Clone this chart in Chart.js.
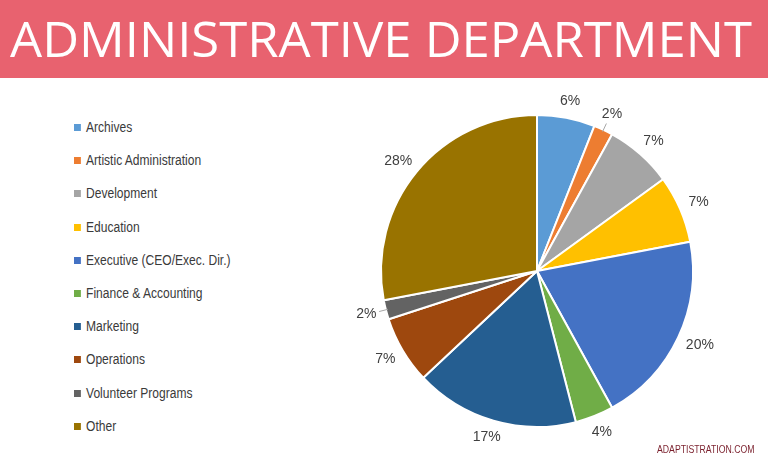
<!DOCTYPE html>
<html>
<head>
<meta charset="utf-8">
<script src="https://cdn.jsdelivr.net/npm/chart.js@4/dist/chart.umd.min.js"></script>
<style>
  html, body { margin: 0; padding: 0; background: #fff; }
  body { width: 768px; height: 464px; position: relative; overflow: hidden; }
  #banner { position: absolute; left: 0; top: 0; width: 768px; height: 78px; background: #E8626F; }
  #banner span { position: absolute; left: 10px; top: 8px; color: #fff; font-family: "Open Sans", sans-serif; font-weight: 400; font-size: 50px; line-height: 60px; white-space: nowrap; transform-origin: 0 0; }
  #legend { position: absolute; left: 74px; top: 0; }
  .item { position: absolute; left: 0; white-space: nowrap; font-family: "Liberation Sans", sans-serif; font-size: 14px; color: #3A3A3A; transform: scaleX(0.86); transform-origin: 0 50%; }
  .item i { display: inline-block; width: 8px; height: 7px; margin-right: 6px; vertical-align: 1px; }
  #wrap { position: absolute; left: 317px; top: 81px; width: 440px; height: 380px; }
  #mark { position: absolute; left: 657px; top: 444px; font-family: "Liberation Sans", sans-serif; font-size: 10px; color: #7A1F2C; transform: scaleX(0.87); transform-origin: 0 50%; }
</style>
</head>
<body>
<div id="banner"><span id="titulo">ADMINISTRATIVE DEPARTMENT</span></div>
<div id="legend"></div>
<div id="wrap"><canvas id="myChart" width="440" height="380"></canvas></div>
<div id="mark">ADAPTISTRATION.COM</div>
<script>
/* DATOS */
const categorias = ["Archives", "Artistic Administration", "Development", "Education",
  "Executive (CEO/Exec. Dir.)", "Finance & Accounting", "Marketing", "Operations",
  "Volunteer Programs", "Other"];
const porcentajes = [6, 2, 7, 7, 20, 4, 17, 7, 2, 28];
const colores = ["#5B9BD5", "#ED7D31", "#A5A5A5", "#FFC000", "#4472C4",
  "#70AD47", "#255E91", "#9E480E", "#636363", "#997300"];

// ajustar el titulo al ancho del banner
const titulo = document.getElementById("titulo");
titulo.style.transform = "scaleX(" + (742 / titulo.getBoundingClientRect().width) + ")";

// leyenda
const legend = document.getElementById("legend");
categorias.forEach((cat, i) => {
  const div = document.createElement("div");
  div.className = "item";
  div.style.top = (119 + i * 33.2) + "px";
  div.innerHTML = `<i style="background:${colores[i]}"></i>${cat.replace("&", "&amp;")}`;
  legend.appendChild(div);
});

// etiquetas de porcentaje fuera del pie
const etiquetas = {
  id: "etiquetas",
  afterDatasetsDraw(chart) {
    const ctx = chart.ctx;
    const meta = chart.getDatasetMeta(0);
    ctx.save();
    ctx.font = "14px 'Liberation Sans', sans-serif";
    ctx.fillStyle = "#404040";
    ctx.textAlign = "center";
    ctx.textBaseline = "middle";
    meta.data.forEach((arc, i) => {
      const p = arc.getProps(["x", "y", "startAngle", "endAngle", "outerRadius"], true);
      const a = (p.startAngle + p.endAngle) / 2;
      const txt = porcentajes[i] + "%";
      const w = ctx.measureText(txt).width;
      const r = p.outerRadius + 10;
      const cx = p.x + Math.cos(a) * r + Math.cos(a) * w / 2;
      const cy = p.y + Math.sin(a) * r + Math.sin(a) * 7;
      if (porcentajes[i] <= 2) {
        ctx.strokeStyle = "#A6A6A6";
        ctx.lineWidth = 1;
        ctx.beginPath();
        ctx.moveTo(p.x + Math.cos(a) * (p.outerRadius - 2), p.y + Math.sin(a) * (p.outerRadius - 2));
        ctx.lineTo(p.x + Math.cos(a) * (p.outerRadius + 7), p.y + Math.sin(a) * (p.outerRadius + 7));
        ctx.stroke();
      }
      ctx.fillText(txt, cx, cy);
    });
    ctx.restore();
  }
};

const grafico = new Chart(document.getElementById("myChart"), {
  type: "pie",
  data: {
    labels: categorias,
    datasets: [{
      data: porcentajes,
      backgroundColor: colores,
      borderColor: "#fff",
      borderWidth: 2,
      radius: 156
    }]
  },
  options: {
    responsive: false,
    animation: false,
    plugins: { legend: { display: false }, tooltip: { enabled: false } }
  },
  plugins: [etiquetas]
});
</script>
</body>
</html>
